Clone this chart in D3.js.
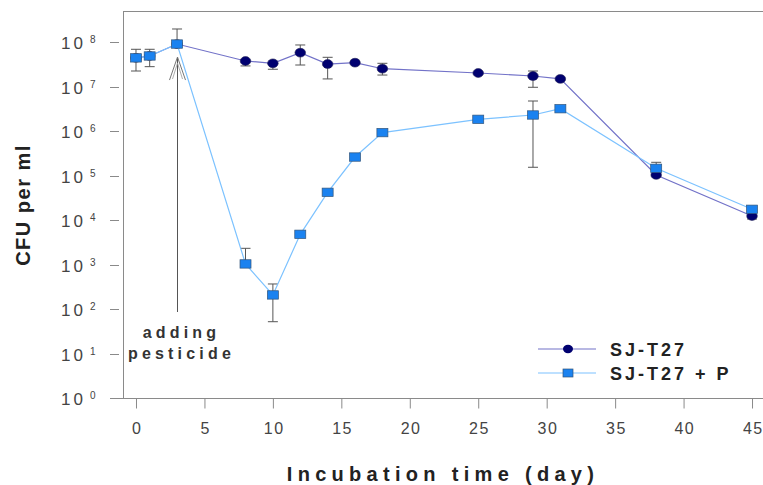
<!DOCTYPE html>
<html><head><meta charset="utf-8">
<script src="https://cdn.jsdelivr.net/npm/d3@7"></script>
<style>body{margin:0;background:#fff}svg{display:block}</style>
</head><body>
<svg id="c" width="763" height="485"></svg>
<script>
// ---- data ----
const days = [0, 1, 3, 8, 10, 12, 14, 16, 18, 25, 29, 31, 38, 45];
const sjT27 = [4.4e7, 4.85e7, 9.0e7, 3.74e7, 3.32e7, 5.75e7, 3.2e7, 3.43e7, 2.51e7, 2.01e7, 1.72e7, 1.48e7, 1.03e5, 1.23e4];
const sjT27Hi = [null, null, null, null, null, 8.57e7, 4.53e7, null, 3.32e7, null, 2.23e7, null, null, null];
const sjT27Lo = [null, null, null, 2.9e7, 2.44e7, 3.04e7, 1.48e7, null, 1.81e7, null, 9.6e6, null, null, 1.05e4];
const sjT27P = [4.4e7, 4.85e7, 9.0e7, 1.03e3, 2.07e2, 4.77e3, 4.19e4, 2.6e5, 9.2e5, 1.83e6, 2.29e6, 3.17e6, 1.45e5, 1.74e4];
const sjT27PHi = [6.86e7, 6.86e7, 1.96e8, 2.31e3, 3.65e2, null, null, null, null, null, 4.72e6, null, 1.98e5, null];
const sjT27PLo = [2.23e7, 2.79e7, null, null, 51.8, null, null, null, null, null, 1.53e5, null, null, null];
const xTicks = [0, 5, 10, 15, 20, 25, 30, 35, 40, 45];
const yExps = [0, 1, 2, 3, 4, 5, 6, 7, 8];
const seriesNames = ["SJ-T27", "SJ-T27 + P"];
const annotation = ["adding", "pesticide"];
const pesticideDay = 3;

// ---- drawing ----
const svg = d3.select("#c");
const x = d3.scaleLinear().domain([-1, 47]).range([122.3, 779.4]);
const y = d3.scaleLog().domain([1, 1e8]).range([398, 42]);
const font = "'Liberation Sans', Arial, sans-serif";
const gridC = "#8a8a8a";

// frame
svg.append("line").attr("x1", 123).attr("x2", 763).attr("y1", 11.5).attr("y2", 11.5).attr("stroke", gridC);
svg.append("line").attr("x1", 123.5).attr("x2", 123.5).attr("y1", 11).attr("y2", 398).attr("stroke", gridC);
svg.append("line").attr("x1", 110).attr("x2", 763).attr("y1", 398.5).attr("y2", 398.5).attr("stroke", gridC);

// x axis
const xa = svg.append("g").attr("transform", "translate(0,398.5)")
  .call(d3.axisBottom(x).tickValues(xTicks).tickSize(10).tickPadding(14).tickFormat(d3.format("d")));
xa.select(".domain").remove();
xa.selectAll(".tick line").attr("stroke", gridC);
xa.selectAll(".tick text").attr("font-family", font).attr("font-size", 16).attr("fill", "#444")
  .attr("letter-spacing", 1.5).attr("dx", 0.75);

// y axis ticks
const ya = svg.append("g");
yExps.forEach(e => {
  const yy = Math.round(y(Math.pow(10, e))) + 0.5;
  ya.append("line").attr("x1", 110).attr("x2", 119).attr("y1", yy).attr("y2", yy).attr("stroke", gridC);
  const t = ya.append("text").attr("font-family", font).attr("fill", "#444").attr("y", yy + 6);
  t.append("tspan").attr("x", 61).attr("font-size", 17).attr("letter-spacing", 3).text("10");
  t.append("tspan").attr("x", 90).attr("dy", -6).attr("font-size", 10).text(String(e));
});

// axis titles
svg.append("text").attr("x", 443).attr("y", 481).attr("text-anchor", "middle")
  .attr("font-family", font).attr("font-weight", "bold").attr("font-size", 20)
  .attr("letter-spacing", 5.3).attr("fill", "#222").text("Incubation time (day)");
svg.append("text").attr("transform", "translate(30,205) rotate(-90)").attr("text-anchor", "middle")
  .attr("font-family", font).attr("font-weight", "bold").attr("font-size", 20)
  .attr("letter-spacing", 1.5).attr("fill", "#222").text("CFU per ml");

// annotation arrow
const ax = Math.round(x(pesticideDay)) + 0.5;
const aTop = y(sjT27P[2]) + 13;
svg.append("line").attr("x1", ax).attr("x2", ax).attr("y1", aTop).attr("y2", 312).attr("stroke", "#555");
svg.append("path").attr("d", `M${ax - 8},${aTop + 23}L${ax},${aTop}L${ax + 8},${aTop + 23}`)
  .attr("fill", "none").attr("stroke", "#777").attr("stroke-width", 1);
svg.append("path").attr("d", `M${ax - 5},${aTop + 22}L${ax},${aTop + 6}L${ax + 5},${aTop + 22}`)
  .attr("fill", "none").attr("stroke", "#999").attr("stroke-width", 0.8);
annotation.forEach((s, i) => {
  svg.append("text").attr("x", ax + 4).attr("y", 338 + i * 21).attr("text-anchor", "middle")
    .attr("font-family", font).attr("font-weight", "bold").attr("font-size", 16)
    .attr("letter-spacing", 4.2).attr("fill", "#333").text(s);
});

// series
const c1Line = "#7272c8", c1Fill = "#000070";
const c2Line = "#7cc2ff", c2Fill = "#1a82f0";
const line = d3.line().x(d => x(d[0])).y(d => y(d[1]));

function errBars(vals, hi, lo) {
  const g = svg.append("g").attr("stroke", "#555").attr("stroke-width", 1);
  days.forEach((d, i) => {
    const cx = x(d);
    [hi[i], lo[i]].forEach(v => {
      if (v == null) return;
      g.append("line").attr("x1", cx).attr("x2", cx).attr("y1", y(vals[i])).attr("y2", y(v));
      g.append("line").attr("x1", cx - 5).attr("x2", cx + 5).attr("y1", y(v)).attr("y2", y(v));
    });
  });
}

// series 1
errBars(sjT27, sjT27Hi, sjT27Lo);
svg.append("path").datum(days.map((d, i) => [d, sjT27[i]])).attr("d", line)
  .attr("fill", "none").attr("stroke", c1Line).attr("stroke-width", 1.2);
svg.append("g").selectAll("ellipse").data(days.map((d, i) => [d, sjT27[i]])).join("ellipse")
  .attr("cx", d => x(d[0])).attr("cy", d => y(d[1])).attr("rx", 5.3).attr("ry", 4.4)
  .attr("fill", c1Fill).attr("stroke", "#222255").attr("stroke-width", 0.6);

// series 2
errBars(sjT27P, sjT27PHi, sjT27PLo);
svg.append("path").datum(days.map((d, i) => [d, sjT27P[i]])).attr("d", line)
  .attr("fill", "none").attr("stroke", c2Line).attr("stroke-width", 1.2);
svg.append("g").selectAll("rect").data(days.map((d, i) => [d, sjT27P[i]])).join("rect")
  .attr("x", d => x(d[0]) - 5.5).attr("y", d => y(d[1]) - 4.2).attr("width", 11).attr("height", 8.4)
  .attr("fill", c2Fill).attr("stroke", "#33557a").attr("stroke-width", 0.7);

// legend
const lg = svg.append("g");
[[c1Line, c1Fill, "c"], [c2Line, c2Fill, "s"]].forEach((c, i) => {
  const ly = 349 + i * 24;
  lg.append("line").attr("x1", 538).attr("x2", 596).attr("y1", ly).attr("y2", ly).attr("stroke", c[0]).attr("stroke-width", 1.2);
  if (c[2] === "c") lg.append("ellipse").attr("cx", 568).attr("cy", ly).attr("rx", 5).attr("ry", 4.2).attr("fill", c[1]);
  else lg.append("rect").attr("x", 563).attr("y", ly - 4).attr("width", 10).attr("height", 8).attr("fill", c[1]).attr("stroke", "#33557a").attr("stroke-width", 0.7);
  lg.append("text").attr("x", 610).attr("y", ly + 6.5).attr("font-family", font).attr("font-weight", "bold")
    .attr("font-size", 18).attr("letter-spacing", 3).attr("fill", "#222").text(seriesNames[i]);
});
</script>
</body></html>
